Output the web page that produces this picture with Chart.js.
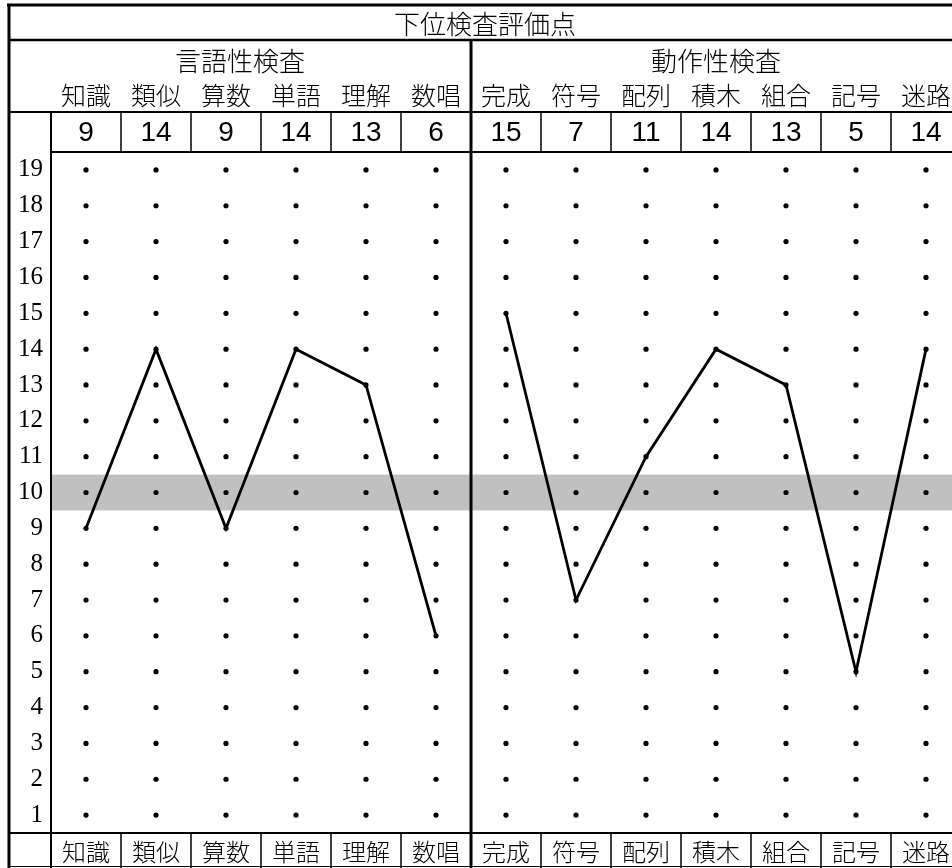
<!DOCTYPE html>
<html lang="ja">
<head>
<meta charset="utf-8">
<script src="https://cdn.jsdelivr.net/npm/chart.js@4"></script>
<style>
    html, body { margin: 0; padding: 0; background: #fff; overflow: hidden; }
    #profile { display: block; }
</style>
</head>
<body>
<canvas id="profile" width="980" height="868"></canvas>
<script>
const TITLE        = '下位検査評価点';
const VERBAL_TITLE = '言語性検査';
const PERF_TITLE   = '動作性検査';

const VERBAL_LABELS = ['知識', '類似', '算数', '単語', '理解', '数唱'];
const PERF_LABELS   = ['完成', '符号', '配列', '積木', '組合', '記号', '迷路'];
const VERBAL_SCORES = [9, 14, 9, 14, 13, 6];
const PERF_SCORES   = [15, 7, 11, 14, 13, 5, 14];
const SCALE_TICKS   = [1, 2, 3, 4, 5, 6, 7, 8, 9, 10, 11, 12, 13, 14, 15, 16, 17, 18, 19];
const MEAN_SCORE    = 10;

const CATEGORIES = [...VERBAL_LABELS, ...PERF_LABELS];
const ALL_SCORES = [...VERBAL_SCORES, ...PERF_SCORES];

const JP_FONT   = '"Noto Sans CJK JP", sans-serif';
const NUM_FONT  = '"Liberation Sans", Arial, sans-serif';
const TICK_FONT = '"Liberation Serif", "DejaVu Serif", serif';

// background dot grid: one dot per subtest per scale step
const gridDots = [];
CATEGORIES.forEach(c => SCALE_TICKS.forEach(v => gridDots.push({ x: c, y: v })));

function line(ctx, x1, y1, x2, y2, w) {
    ctx.lineWidth = w;
    ctx.beginPath();
    ctx.moveTo(x1, y1);
    ctx.lineTo(x2, y2);
    ctx.stroke();
}

const tablePlugin = {
    id: 'profileTable',
    beforeDatasetsDraw(chart) {
        const { ctx, chartArea: a, scales: { y } } = chart;
        ctx.save();
        ctx.fillStyle = '#c0c0c0';
        const top = y.getPixelForValue(MEAN_SCORE + 0.5);
        const bot = y.getPixelForValue(MEAN_SCORE - 0.5);
        ctx.fillRect(a.left, top, a.right - a.left, bot - top);
        ctx.restore();
    },
    afterDraw(chart) {
        const { ctx, chartArea: a, scales: { x }, width, height } = chart;
        const half = (x.getPixelForValue(1) - x.getPixelForValue(0)) / 2;
        const split = x.getPixelForValue(VERBAL_LABELS.length) - half;
        const leftEdge = 9;
        const right = a.right;

        ctx.save();
        ctx.strokeStyle = '#000';
        ctx.fillStyle = '#000';
        ctx.lineCap = 'butt';

        // frame and row rules
        line(ctx, 7, 5, width, 5, 3);
        line(ctx, leftEdge, 4, leftEdge, height, 3);
        line(ctx, leftEdge, 40, width, 40, 2.5);
        line(ctx, leftEdge, 112, width, 112, 2);
        line(ctx, a.left, a.top, width, a.top, 2);
        line(ctx, leftEdge, a.bottom, width, a.bottom, 2);
        line(ctx, leftEdge, 866.5, width, 866.5, 1);
        line(ctx, a.left, 112, a.left, height, 2);

        // cell separators in score row and label row
        CATEGORIES.forEach((c, i) => {
            if (i === 0 || i === VERBAL_LABELS.length) return;
            const px = x.getPixelForValue(i) - half;
            line(ctx, px, 112, px, a.top, 1.5);
            line(ctx, px, a.bottom, px, height, 1.5);
        });
        line(ctx, split, 40, split, height, 3);

        ctx.textAlign = 'center';
        ctx.textBaseline = 'middle';

        ctx.font = `300 26px ${JP_FONT}`;
        ctx.fillText(TITLE, (leftEdge + right) / 2, 24);
        ctx.fillText(VERBAL_TITLE, (leftEdge + split) / 2, 61);
        ctx.fillText(PERF_TITLE, (split + right) / 2, 61);

        ctx.font = `300 25px ${JP_FONT}`;
        CATEGORIES.forEach((c, i) => ctx.fillText(c, x.getPixelForValue(i), 95));

        ctx.font = `28px ${NUM_FONT}`;
        ALL_SCORES.forEach((v, i) => ctx.fillText(String(v), x.getPixelForValue(i), 133));

        ctx.restore();
    },
};

new Chart(document.getElementById('profile').getContext('2d'), {
    type: 'line',
    data: {
        labels: CATEGORIES,
        datasets: [
            {
                data:        [...VERBAL_SCORES, ...PERF_LABELS.map(() => null)],
                borderColor: '#000',
                borderWidth: 2.8,
                pointRadius: 0,
                tension:     0,
                spanGaps:    false,
            },
            {
                data:        [...VERBAL_LABELS.map(() => null), ...PERF_SCORES],
                borderColor: '#000',
                borderWidth: 2.8,
                pointRadius: 0,
                tension:     0,
                spanGaps:    false,
            },
            {
                type:            'scatter',
                data:            gridDots,
                showLine:        false,
                pointRadius:     2.6,
                pointBackgroundColor: '#000',
                pointBorderWidth: 0,
            },
        ],
    },
    options: {
        responsive: false,
        animation: false,
        events: [],
        layout: { padding: { left: 10, top: 152, right: 19, bottom: 0 } },
        plugins: {
            legend:  { display: false },
            tooltip: { enabled: false },
        },
        scales: {
            x: {
                type: 'category',
                offset: true,
                grid:   { display: false, drawTicks: false },
                border: { display: false },
                ticks:  {
                    color: '#000',
                    padding: 4,
                    maxRotation: 0,
                    autoSkip: false,
                    font: { family: JP_FONT, size: 24, weight: '300' },
                },
                afterFit: s => { s.height = 35; },
            },
            y: {
                min: 0.5,
                max: 19.5,
                grid:   { display: false, drawTicks: false },
                border: { display: false },
                ticks:  {
                    color: '#000',
                    padding: 8,
                    font: { family: TICK_FONT, size: 25 },
                },
                afterBuildTicks: s => { s.ticks = SCALE_TICKS.map(v => ({ value: v })); },
                afterFit: s => { s.width = 41; },
            },
        },
    },
    plugins: [tablePlugin],
});
</script>
</body>
</html>
